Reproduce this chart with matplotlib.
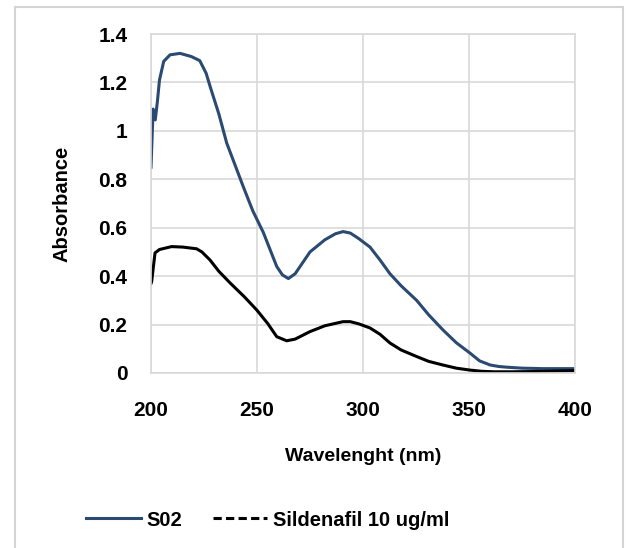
import matplotlib
matplotlib.use("Agg")
import matplotlib.pyplot as plt
from matplotlib.lines import Line2D

plt.rcParams['font.family'] = ['Liberation Sans', 'DejaVu Sans']
plt.rcParams['font.weight'] = 'bold'

# S02 spectrum
s02_wl = [200, 201, 202, 203, 204, 206, 209, 213.7, 219, 223, 226, 228, 232, 235.7,
          243.5, 248, 253, 259.3, 262, 264.8, 268, 275, 282, 287, 290.6, 294, 298,
          303.3, 308, 312.7, 318, 325.3, 331, 337.7, 344, 350.5, 355, 360, 364,
          367.8, 375, 385, 400]
s02_abs = [0.85, 1.09, 1.045, 1.12, 1.21, 1.287, 1.314, 1.32, 1.307, 1.29, 1.238,
           1.18, 1.07, 0.95, 0.77, 0.67, 0.58, 0.44, 0.405, 0.39, 0.41, 0.50, 0.55,
           0.575, 0.584, 0.578, 0.555, 0.52, 0.467, 0.41, 0.36, 0.30, 0.24, 0.178,
           0.125, 0.082, 0.05, 0.033, 0.027, 0.024, 0.02, 0.018, 0.018]

# Sildenafil 10 ug/ml spectrum
sil_wl = [200, 200.3, 201.9, 204, 209.7, 215, 221.5, 224, 227.8, 232, 237.3, 244,
          249.9, 255, 259.3, 264, 268, 275, 282, 290.6, 294, 298, 303.3, 308,
          312.7, 318, 325.3, 331, 337.7, 344, 350.5, 356, 362, 370, 380, 390, 400]
sil_abs = [0.37, 0.377, 0.496, 0.51, 0.522, 0.52, 0.513, 0.50, 0.467, 0.42, 0.372,
           0.315, 0.26, 0.205, 0.15, 0.133, 0.14, 0.171, 0.195, 0.212, 0.212, 0.203,
           0.186, 0.16, 0.124, 0.095, 0.068, 0.048, 0.033, 0.02, 0.012, 0.007,
           0.005, 0.005, 0.006, 0.008, 0.01]

series_names = ['S02', 'Sildenafil 10 ug/ml']
x_ticks = [200, 250, 300, 350, 400]
y_ticks = [0, 0.2, 0.4, 0.6, 0.8, 1.0, 1.2, 1.4]
y_tick_labels = ['0', '0.2', '0.4', '0.6', '0.8', '1', '1.2', '1.4']

blue = '#2a4a72'
grid_c = '#d9d9d9'

fig = plt.figure(figsize=(6.30, 5.48), dpi=100)
ax = fig.add_axes([151/630, 1-373/548, (575-151)/630, (373-34)/548])

ax.plot(s02_wl, s02_abs, color=blue, lw=2.2, solid_joinstyle='round')
ax.plot(sil_wl, sil_abs, color='black', lw=2.2, solid_joinstyle='round')

ax.set_xlim(200, 400)
ax.set_ylim(0, 1.4)
ax.set_xticks(x_ticks)
ax.set_xticklabels([str(t) for t in x_ticks])
ax.set_yticks(y_ticks)
ax.set_yticklabels(y_tick_labels)
ax.tick_params(length=0, labelsize=15)
ax.tick_params(axis='y', pad=17)
ax.tick_params(axis='x', pad=20)
for lab in ax.get_xticklabels() + ax.get_yticklabels():
    lab.set_fontweight('bold')
ax.grid(True, color=grid_c, lw=1.2)
ax.set_axisbelow(True)
for sp in ax.spines.values():
    sp.set_color(grid_c)
    sp.set_linewidth(1.2)

ax.set_xlabel('Wavelenght (nm)', fontsize=14, fontweight='bold', labelpad=20)
ax.set_ylabel('Absorbance', fontsize=14.5, fontweight='bold', labelpad=19)

handles = [Line2D([0], [0], color=blue, lw=2.2),
           Line2D([0], [0], color='black', lw=2.2, ls=(0, (2.7, 1.4)))]
fig.legend(handles, series_names, loc='center', bbox_to_anchor=(268/630, 1-520/548),
           ncol=2, frameon=False, prop={'size': 14.5, 'weight': 'bold'},
           handlelength=2.7, handletextpad=0.3, columnspacing=1.5)

# outer light-grey frame
border = dict(color='#d4d4d4', lw=1.5, transform=fig.transFigure, clip_on=False)
fig.add_artist(Line2D([15/630, 15/630], [0, 1-7/548], **border))
fig.add_artist(Line2D([623/630, 623/630], [0, 1-7/548], **border))
fig.add_artist(Line2D([15/630, 623/630], [1-7/548, 1-7/548], **border))

fig.savefig('out.png', dpi=100)
